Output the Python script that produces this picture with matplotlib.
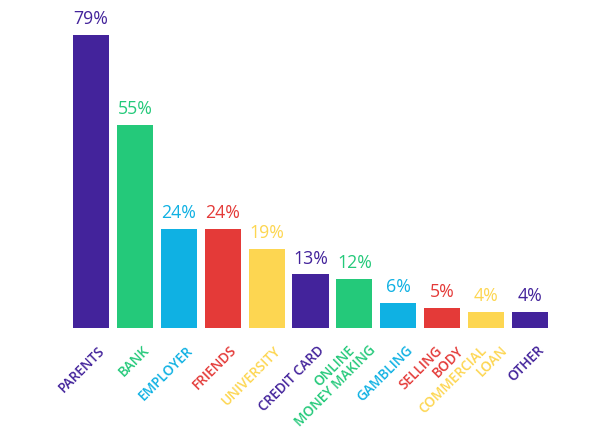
import matplotlib
matplotlib.use("Agg")
import matplotlib.pyplot as plt

categories = ["PARENTS", "BANK", "EMPLOYER", "FRIENDS", "UNIVERSITY", "CREDIT CARD",
              "ONLINE\nMONEY MAKING", "GAMBLING", "SELLING\nBODY", "COMMERCIAL\nLOAN", "OTHER"]
# printed percentages
values = [79, 55, 24, 24, 19, 13, 12, 6, 5, 4, 4]
# bar heights as drawn in the picture (same scale as the 79% bar)
bar_heights = [79, 54.8, 26.7, 26.7, 21.3, 14.5, 13.3, 6.7, 5.5, 4.5, 4.5]

PURPLE = "#43239B"
GREEN = "#24C97A"
BLUE = "#0FB1E3"
RED = "#E43A38"
YELLOW = "#FDD651"
colors = [PURPLE, GREEN, BLUE, RED, YELLOW, PURPLE, GREEN, BLUE, RED, YELLOW, PURPLE]

fig = plt.figure(figsize=(6.05, 4.38), dpi=100)
ax = fig.add_axes([69 / 605, (438 - 328.3) / 438, 483 / 605, 315.6 / 438])
x = list(range(len(values)))
ax.bar(x, bar_heights, width=0.82, color=colors)
ax.set_xlim(-0.5, len(values) - 0.5)
ax.set_ylim(0, 85)
ax.axis("off")

for i, (v, h) in enumerate(zip(values, bar_heights)):
    ax.annotate(f"{v}%", xy=(i, h), xytext=(0, 5), textcoords="offset points",
                ha="center", va="bottom", fontsize=12.8, color=colors[i],
                family="Open Sans")

px = 0.72  # points per pixel
for i, lab in enumerate(categories):
    lines = lab.split("\n")
    if len(lines) == 1:
        offs = [7]
    else:
        offs = [-7, 14]
    for line, dx in zip(lines, offs):
        ax.annotate(line, xy=(i, 0), xytext=(dx * px, -15 * px), textcoords="offset points",
                    ha="right", va="top", rotation=45, rotation_mode="anchor",
                    fontsize=9.8, color=colors[i], family="Open Sans", fontweight="semibold")

fig.savefig("out.png", dpi=100)
